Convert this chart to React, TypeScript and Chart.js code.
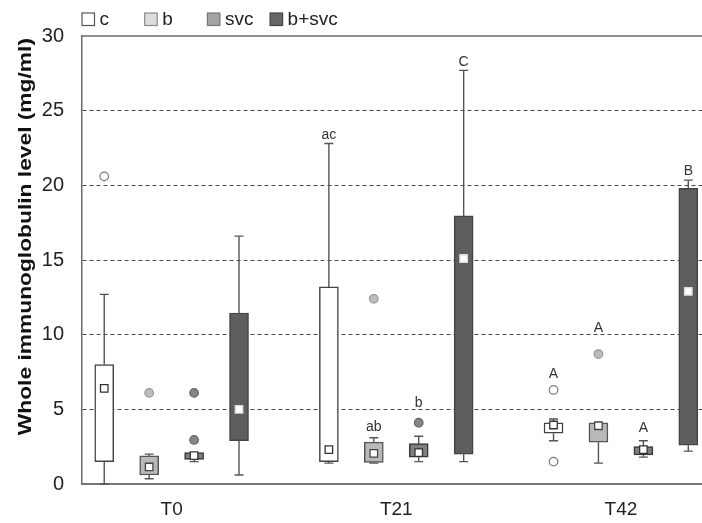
import React, { useEffect, useRef } from 'react';
import { Chart, registerables } from 'chart.js';

Chart.register(...registerables);

// ---- data ----
const categories = ['T0', 'T21', 'T42'];
const seriesNames = ['c', 'b', 'svc', 'b+svc'];
const yTicks = [0, 5, 10, 15, 20, 25, 30];
const yTitle = 'Whole immunoglobulin level (mg/ml)';

// c
const cMin = [0, 1.4, 2.9];
const cQ1 = [1.5, 1.5, 3.4];
const cQ3 = [8.0, 13.2, 4.1];
const cMax = [12.7, 22.8, 4.35];
const cMean = [6.4, 2.3, 3.95];
const cOutliers = [[20.6], [], [6.3, 1.5]];
const cLetters = ['', 'ac', 'A'];
const cLetterY = [0, 23.1, 7.1];

// b
const bMin = [0.35, 1.4, 1.4];
const bQ1 = [0.6, 1.45, 2.8];
const bQ3 = [1.88, 2.8, 4.1];
const bMax = [2.0, 3.1, 4.1];
const bMean = [1.14, 2.05, 3.9];
const bOutliers = [[6.1], [12.4], [8.7]];
const bLetters = ['', 'ab', 'A'];
const bLetterY = [0, 3.55, 10.15];

// svc
const svcMin = [1.5, 1.5, 1.8];
const svcQ1 = [1.65, 1.8, 1.95];
const svcQ3 = [2.1, 2.7, 2.5];
const svcMax = [2.1, 3.2, 2.9];
const svcMean = [1.9, 2.1, 2.3];
const svcOutliers = [[6.1, 2.95], [4.1], []];
const svcLetters = ['', 'b', 'A'];
const svcLetterY = [0, 5.15, 3.5];

// b+svc
const bsMin = [0.6, 1.5, 2.2];
const bsQ1 = [2.9, 2.0, 2.6];
const bsQ3 = [11.45, 17.95, 19.8];
const bsMax = [16.6, 27.7, 20.35];
const bsMean = [5.0, 15.1, 12.9];
const bsOutliers = [[], [], []];
const bsLetters = ['', 'C', 'B'];
const bsLetterY = [0, 28.0, 20.7];

// ---- styles ----
const FONT = "'Liberation Sans', Arial, sans-serif";
const boxFill = ['#ffffff', '#b9b9b9', '#7f7f7f', '#5e5e5e'];
const boxBorder = ['#444444', '#555555', '#363636', '#444444'];
const legendFill = ['#ffffff', '#dcdcdc', '#a4a4a4', '#666666'];
const legendBorder = ['#555555', '#8a8a8a', '#777777', '#444444'];
const outlierFill = ['#ffffff', '#bdbdbd', '#858585', '#5e5e5e'];
const outlierBorder = ['#777777', '#999999', '#666666', '#444444'];
const meanBorder = ['#333333', '#444444', '#333333', '#dddddd'];
const seriesOffset = [-0.3, -0.1, 0.1, 0.3];

const stats = [
  { min: cMin, q1: cQ1, q3: cQ3, max: cMax, mean: cMean, out: cOutliers, letters: cLetters, ly: cLetterY },
  { min: bMin, q1: bQ1, q3: bQ3, max: bMax, mean: bMean, out: bOutliers, letters: bLetters, ly: bLetterY },
  { min: svcMin, q1: svcQ1, q3: svcQ3, max: svcMax, mean: svcMean, out: svcOutliers, letters: svcLetters, ly: svcLetterY },
  { min: bsMin, q1: bsQ1, q3: bsQ3, max: bsMax, mean: bsMean, out: bsOutliers, letters: bsLetters, ly: bsLetterY },
];

const boxPlugin = {
  id: 'boxExtras',
  beforeDatasetsDraw(chart: any) {
    const { ctx, scales } = chart;
    const xs = scales.x;
    const ys = scales.y;
    ctx.save();
    // top border
    ctx.strokeStyle = '#6a6a6a';
    ctx.lineWidth = 1.5;
    ctx.beginPath();
    ctx.moveTo(chart.chartArea.left, ys.getPixelForValue(30));
    ctx.lineTo(chart.chartArea.right, ys.getPixelForValue(30));
    ctx.stroke();
    // whiskers
    ctx.strokeStyle = '#555555';
    ctx.lineWidth = 1.4;
    stats.forEach((st, s) => {
      categories.forEach((_, i) => {
        const x = xs.getPixelForValue(i + seriesOffset[s]);
        const cap = 4.5;
        if (st.max[i] > st.q3[i]) {
          const y1 = ys.getPixelForValue(st.q3[i]);
          const y2 = ys.getPixelForValue(st.max[i]);
          ctx.beginPath();
          ctx.moveTo(x, y1);
          ctx.lineTo(x, y2);
          ctx.moveTo(x - cap, y2);
          ctx.lineTo(x + cap, y2);
          ctx.stroke();
        }
        if (st.min[i] < st.q1[i]) {
          const y1 = ys.getPixelForValue(st.q1[i]);
          const y2 = ys.getPixelForValue(st.min[i]);
          ctx.beginPath();
          ctx.moveTo(x, y1);
          ctx.lineTo(x, y2);
          ctx.moveTo(x - cap, y2);
          ctx.lineTo(x + cap, y2);
          ctx.stroke();
        }
      });
    });
    ctx.restore();
  },
  afterDatasetsDraw(chart: any) {
    const { ctx, scales } = chart;
    const xs = scales.x;
    const ys = scales.y;
    ctx.save();
    ctx.font = `14px ${FONT}`;
    ctx.fillStyle = '#333333';
    ctx.textAlign = 'center';
    ctx.textBaseline = 'alphabetic';
    stats.forEach((st, s) => {
      categories.forEach((_, i) => {
        const t = st.letters[i];
        if (!t) return;
        const x = xs.getPixelForValue(i + seriesOffset[s]);
        ctx.fillText(t, x, ys.getPixelForValue(st.ly[i]));
      });
    });
    ctx.restore();
  },
  afterDraw(chart: any) {
    const { ctx, scales } = chart;
    ctx.save();
    // legend
    ctx.font = `19px ${FONT}`;
    ctx.textBaseline = 'middle';
    ctx.textAlign = 'left';
    seriesNames.forEach((name, s) => {
      const x = 82 + s * 62.7;
      const y = 19.5;
      ctx.fillStyle = legendFill[s];
      ctx.strokeStyle = legendBorder[s];
      ctx.lineWidth = 1.2;
      ctx.fillRect(x, y - 6.5, 12.5, 12.5);
      ctx.strokeRect(x, y - 6.5, 12.5, 12.5);
      ctx.fillStyle = '#222222';
      ctx.fillText(name, x + 17.5, y);
    });
    // y axis title (slightly stretched along its length like the reference)
    const ys = scales.y;
    ctx.translate(26, ys.getPixelForValue(30) + 2);
    ctx.rotate(-Math.PI / 2);
    ctx.scale(1.265, 1);
    ctx.font = `bold 18px ${FONT}`;
    ctx.fillStyle = '#111111';
    ctx.textAlign = 'right';
    ctx.textBaseline = 'middle';
    ctx.fillText(yTitle, 0, 0);
    ctx.restore();
  },
};

export default function App() {
  const ref = useRef<HTMLCanvasElement | null>(null);

  useEffect(() => {
    document.body.style.margin = '0';
    if (!ref.current) return;
    Chart.defaults.font.family = FONT;

    const boxDatasets = stats.map((st, s) => ({
      type: 'bar' as const,
      label: seriesNames[s],
      data: categories.map((_, i) => ({ x: i + seriesOffset[s], y: [st.q1[i], st.q3[i]] })),
      backgroundColor: boxFill[s],
      borderColor: boxBorder[s],
      borderWidth: 1.5,
      borderSkipped: false,
      barThickness: 19,
      grouped: false,
      order: 2,
    }));

    const meanPts: any[] = [];
    const meanBorders: string[] = [];
    const outPts: any[] = [];
    const outFills: string[] = [];
    const outBorders: string[] = [];
    stats.forEach((st, s) => {
      categories.forEach((_, i) => {
        meanPts.push({ x: i + seriesOffset[s], y: st.mean[i] });
        meanBorders.push(meanBorder[s]);
        st.out[i].forEach((v: number) => {
          outPts.push({ x: i + seriesOffset[s], y: v });
          outFills.push(outlierFill[s]);
          outBorders.push(outlierBorder[s]);
        });
      });
    });

    const chart = new Chart(ref.current, {
      type: 'bar',
      data: {
        datasets: [
          ...boxDatasets,
          {
            type: 'scatter' as const,
            label: 'mean',
            data: meanPts,
            pointStyle: 'rect',
            pointRadius: 5.3,
            pointBackgroundColor: '#ffffff',
            pointBorderColor: meanBorders,
            pointBorderWidth: 1.3,
            order: 0,
          } as any,
          {
            type: 'scatter' as const,
            label: 'outliers',
            data: outPts,
            pointStyle: 'circle',
            pointRadius: 4.3,
            pointBackgroundColor: outFills,
            pointBorderColor: outBorders,
            pointBorderWidth: 1.2,
            order: 1,
          } as any,
        ],
      },
      options: {
        responsive: false,
        animation: false,
        layout: { autoPadding: false, padding: { top: 36, left: 0, right: 0, bottom: 0 } },
        plugins: {
          legend: { display: false },
          tooltip: { enabled: false },
        },
        scales: {
          x: {
            type: 'linear',
            offset: false,
            min: -0.399,
            max: 2.361,
            afterFit: (s: any) => { s.height = 39; s.paddingLeft = 0; s.paddingRight = 0; },
            afterBuildTicks: (s: any) => { s.ticks = categories.map((_, i) => ({ value: i })); },
            grid: { display: false, drawTicks: false },
            border: { display: true, color: '#777777', width: 2 },
            ticks: {
              autoSkip: false,
              maxRotation: 0,
              padding: 14,
              color: '#222222',
              font: { size: 19, family: FONT },
              callback: (v: any) => categories[v as number] ?? '',
            },
          },
          y: {
            type: 'linear',
            min: 0,
            max: 30,
            afterFit: (s: any) => { s.width = 82; },
            afterBuildTicks: (s: any) => { s.ticks = yTicks.map((v) => ({ value: v })); },
            grid: {
              drawTicks: false,
              color: (c: any) => (c.tick && (c.tick.value === 0 || c.tick.value === 30) ? 'rgba(0,0,0,0)' : '#4a4a4a'),
              lineWidth: 1,
            },
            border: { display: true, color: '#6a6a6a', width: 1.5, dash: [4, 3] },
            ticks: {
              padding: 18,
              color: '#222222',
              font: { size: 20, family: FONT },
            },
          },
        },
      },
      plugins: [boxPlugin],
    } as any);

    return () => chart.destroy();
  }, []);

  return (
    <div style={{ width: 702, height: 523 }}>
      <canvas ref={ref} width={702} height={523} style={{ display: 'block' }} />
    </div>
  );
}
